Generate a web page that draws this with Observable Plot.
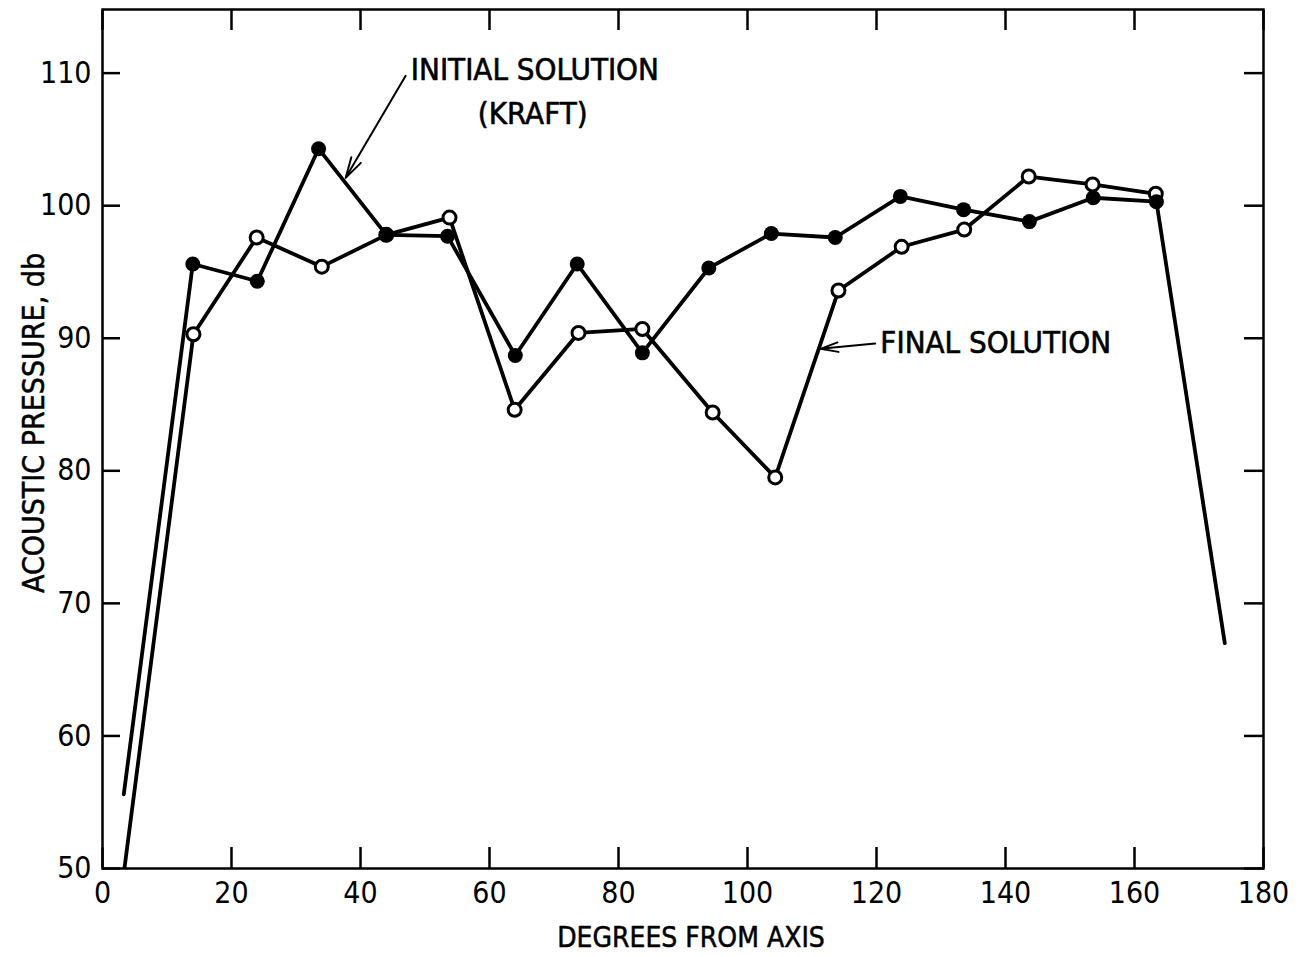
<!DOCTYPE html>
<html><head><meta charset="utf-8">
<script src="https://cdn.jsdelivr.net/npm/d3@7"></script>
<script src="https://cdn.jsdelivr.net/npm/@observablehq/plot@0.6"></script>
<style>body{margin:0;background:#fff;}</style>
</head><body><div id="chart"></div>
<script>
// Initial solution (Kraft) - filled markers; first and last points are line ends without markers
const degreesInitial  = [3.3, 14.0, 24.0, 33.5, 44.0, 53.5, 64.0, 73.6, 83.7, 94.0, 103.7, 113.6, 123.7, 133.5, 143.7, 153.6, 163.4, 174.0];
const pressureInitial = [55.6, 95.6, 94.3, 104.3, 97.8, 97.7, 88.7, 95.6, 88.9, 95.3, 97.9, 97.6, 100.7, 99.7, 98.8, 100.6, 100.3, 67.0];
// Final solution - open markers; first point is a line end without marker
const degreesFinal  = [3.4, 14.1, 23.9, 34.0, 44.0, 53.8, 63.9, 73.8, 83.7, 94.6, 104.3, 114.1, 123.9, 133.6, 143.6, 153.5, 163.3];
const pressureFinal = [50.0, 90.3, 97.6, 95.4, 97.8, 99.1, 84.6, 90.4, 90.7, 84.4, 79.5, 93.6, 96.9, 98.2, 102.2, 101.6, 100.9];

const xTicks = [0, 20, 40, 60, 80, 100, 120, 140, 160, 180];
const yTicks = [50, 60, 70, 80, 90, 100, 110];
const xTitle = "DEGREES FROM AXIS";
const yTitle = "ACOUSTIC PRESSURE, db";

// annotation labels and arrows (data coordinates)
const labels = [
  {x: 47.8, y: 110.2, text: "INITIAL SOLUTION", anchor: "start"},
  {x: 66.7, y: 106.9, text: "(KRAFT)", anchor: "middle"},
  {x: 120.6, y: 89.6, text: "FINAL SOLUTION", anchor: "start"}
];
const arrows = [
  {x1: 47.0, y1: 109.8, x2: 37.7, y2: 102.1},
  {x1: 119.8, y1: 89.6, x2: 111.3, y2: 89.2}
];

const initial = degreesInitial.map((d, i) => ({x: d, y: pressureInitial[i]}));
const final = degreesFinal.map((d, i) => ({x: d, y: pressureFinal[i]}));

const FONT = "'Liberation Sans Narrow', 'DejaVu Sans Condensed', 'Liberation Sans', sans-serif";

const chart = Plot.plot({
  width: 1300,
  height: 957,
  marginLeft: 102,
  marginRight: 37,
  marginTop: 9,
  marginBottom: 89,
  x: {domain: [0, 180]},
  y: {domain: [50, 114.8]},
  style: {fontFamily: FONT, color: "#000", background: "#fff", overflow: "visible"},
  marks: [
    Plot.axisX(xTicks, {anchor: "bottom", tickSize: -21, tickPadding: 34, strokeWidth: 2.5, fontSize: 30, label: null}),
    Plot.axisX(xTicks, {anchor: "top", tickSize: -20, tickFormat: () => "", strokeWidth: 2.5, label: null}),
    Plot.axisY(yTicks, {anchor: "left", tickSize: -18, tickPadding: 29, strokeWidth: 2.5, fontSize: 30, label: null}),
    Plot.axisY(yTicks, {anchor: "right", tickSize: -20, tickFormat: () => "", strokeWidth: 2.5, label: null}),
    Plot.frame({stroke: "#000", strokeWidth: 2.5}),
    Plot.line(initial, {x: "x", y: "y", stroke: "#000", strokeWidth: 3.8, clip: true}),
    Plot.line(final, {x: "x", y: "y", stroke: "#000", strokeWidth: 3.8, clip: true}),
    Plot.dot(final.slice(1), {x: "x", y: "y", r: 6.5, fill: "#fff", stroke: "#000", strokeWidth: 3}),
    Plot.dot(initial.slice(1, -1), {x: "x", y: "y", r: 7.5, fill: "#000", stroke: "none"}),
    Plot.arrow(arrows, {x1: "x1", y1: "y1", x2: "x2", y2: "y2", stroke: "#000", strokeWidth: 2, headLength: 16, headAngle: 30}),
    Plot.text(labels.filter(d => d.anchor === "start"), {x: "x", y: "y", text: "text", textAnchor: "start", fontSize: 31, fill: "#000", stroke: "#000", strokeWidth: 0.6}),
    Plot.text(labels.filter(d => d.anchor === "middle"), {x: "x", y: "y", text: "text", textAnchor: "middle", fontSize: 31, fill: "#000", stroke: "#000", strokeWidth: 0.6}),
    Plot.text([xTitle], {text: d => d, frameAnchor: "bottom", textAnchor: "middle", lineAnchor: "middle", dy: 70, dx: 8, fontSize: 28, fill: "#000", stroke: "#000", strokeWidth: 0.5}),
    Plot.text([yTitle], {text: d => d, frameAnchor: "left", textAnchor: "middle", lineAnchor: "middle", rotate: -90, dx: -68, dy: -16, fontSize: 30, fill: "#000", stroke: "#000", strokeWidth: 0.5})
  ]
});
document.getElementById("chart").appendChild(chart);
</script>
</body></html>
